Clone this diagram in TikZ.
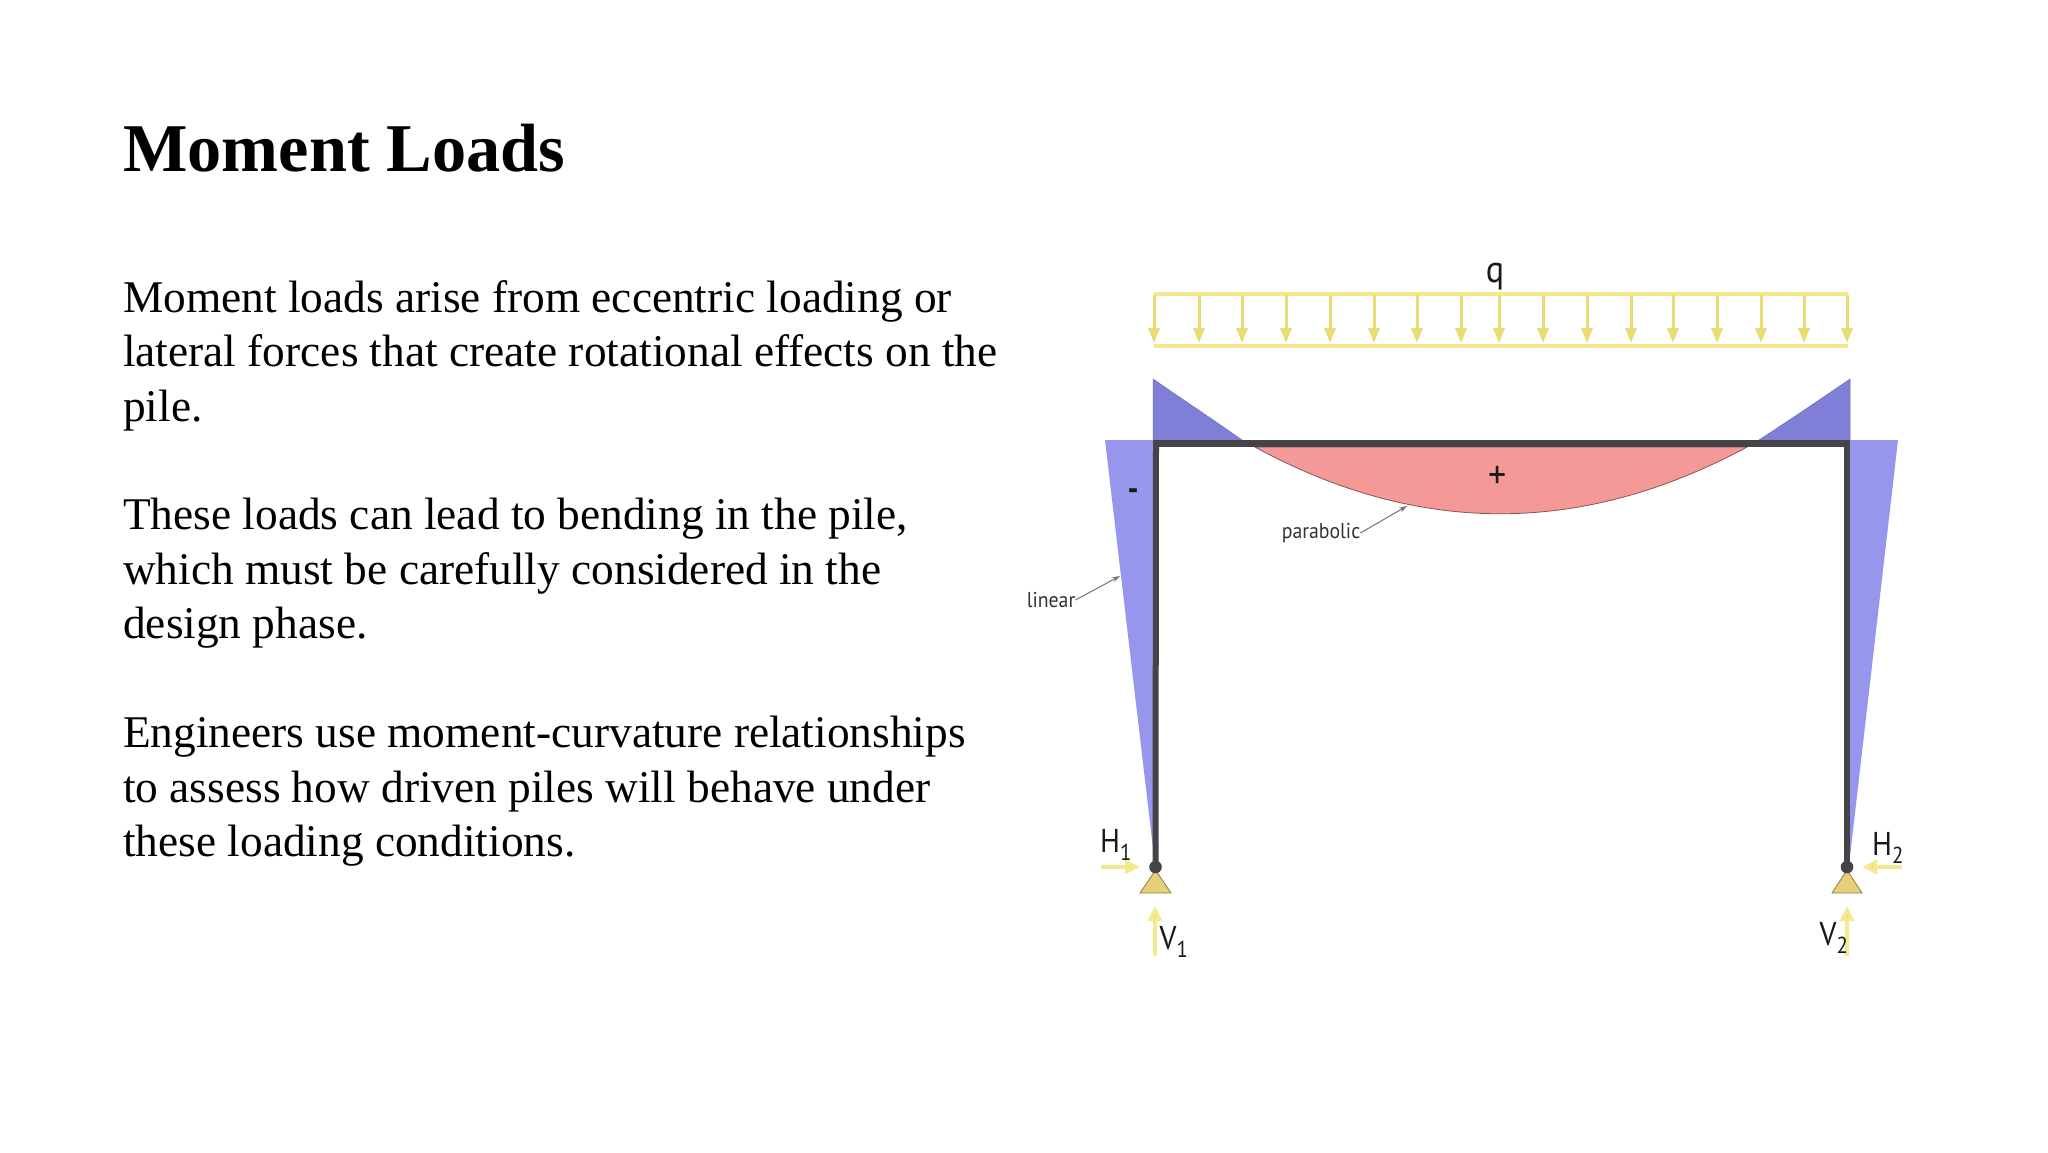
\documentclass[tikz,border=0pt]{standalone}
\usepackage{fontspec}
\setmainfont{Liberation Serif}
\newfontfamily\diagfont{PT Sans}
\usetikzlibrary{arrows.meta}
\definecolor{loady}{HTML}{F5E98F}
\definecolor{loadd}{HTML}{E9DC70}
\definecolor{momtop}{HTML}{7F7FD8}
\definecolor{momside}{HTML}{9696EC}
\definecolor{mompos}{HTML}{F49898}
\definecolor{frame}{HTML}{444448}
\definecolor{supp}{HTML}{E6D178}
\tikzset{
  x=1pt,y=-1pt,
  titletext/.style={inner sep=0,anchor=base west,font=\fontsize{68.3}{68}\selectfont\bfseries},
  bodytext/.style={inner sep=0,anchor=north west,align=left,font=\fontsize{45.35}{54.5}\selectfont},
  lab/.style={inner sep=0,text=black!90,font=\diagfont\fontsize{33}{33}\selectfont,xscale=0.9},
  note/.style={inner sep=0,text=black!80,font=\diagfont\fontsize{21.5}{24}\selectfont,xscale=0.92},
  leader/.style={draw=black!55,line width=1pt,-{Stealth[length=8pt,width=5pt]}},
  loadline/.style={draw=loady,line width=4.5pt},
  loadarrow/.style={draw=loadd,line width=3pt,-{Triangle[length=15pt,width=11pt,fill=loadd]},shorten >=2pt},
  reaction/.style={draw=loady,line width=3.6pt,-{Triangle[length=15pt,width=14pt,fill=loadd]}},
  beam/.style={draw=frame,line width=7.5pt},
}
\begin{document}
\begin{tikzpicture}
\useasboundingbox (0,0) rectangle (2048,1152);
\fill[white] (0,0) rectangle (2048,1152);
\node[titletext] (title) at (123,171) {Moment Loads};
\node[bodytext] (p1) at (123,280) {Moment loads arise from eccentric loading or\\lateral forces that create rotational effects on the\\pile.};
\node[bodytext] (p2) at (123,498) {These loads can lead to bending in the pile,\\which must be carefully considered in the\\design phase.};
\node[bodytext] (p3) at (123,716) {Engineers use moment-curvature relationships\\to assess how driven piles will behave under\\these loading conditions.};

% moment diagrams
\fill[mompos,draw=black!45!mompos,line width=0.8pt] (1255,447) .. controls (1418,536) and (1582,536) .. (1747,447) -- cycle;
\fill[momside] (1105,440) -- (1155,440) -- (1155,865) -- cycle;
\fill[momside] (1898,440) -- (1849,440) -- (1849,865) -- cycle;
\fill[momtop,draw=momtop!85!black,line width=0.5pt] (1153,379) .. controls (1185,401) and (1215,421) .. (1242,440) -- (1153,440) -- cycle;
\fill[momtop,draw=momtop!85!black,line width=0.5pt] (1850,379) .. controls (1818,401) and (1788,421) .. (1759,440) -- (1850,440) -- cycle;

% frame
\coordinate (tl) at (1153,443.5);
\coordinate (tr) at (1850,443.5);
\coordinate (bl) at (1155.5,867);
\coordinate (br) at (1847,867);
\draw[beam] (tl) -- (tr);
\draw[draw=frame,line width=6pt] (1156,440) -- (bl);
\draw[draw=frame,line width=6pt] (1847,440) -- (br);
\fill[supp,draw=black!40!supp,line width=0.8pt] (1155.5,870) -- (1171,893) -- (1140,893) -- cycle;
\fill[supp,draw=black!40!supp,line width=0.8pt] (1847,870) -- (1862,893) -- (1832,893) -- cycle;
\fill[frame] (bl) circle (6.3);
\fill[frame] (br) circle (6.3);

% load
\draw[loadline] (1154,294) -- (1848,294);
\draw[loadline] (1154,346) -- (1848,346);
\foreach \ax in {1154,1199,1242,1286,1330,1374,1417,1461,1499,1543,1587,1631,1673,1717,1761,1804,1847}
  \draw[loadarrow] (\ax,295) -- (\ax,345);

% reactions
\coordinate (h1a) at (1101,867); \coordinate (h1b) at (1140,867);
\coordinate (h2a) at (1902,867); \coordinate (h2b) at (1862,867);
\coordinate (v1a) at (1155,956); \coordinate (v1b) at (1155,906);
\coordinate (v2a) at (1847,956); \coordinate (v2b) at (1847,906);
\draw[reaction] (h1a) -- (h1b);
\draw[reaction] (h2a) -- (h2b);
\draw[reaction] (v1a) -- (v1b);
\draw[reaction] (v2a) -- (v2b);

% labels
\node[lab,font=\diagfont\fontsize{38}{38}\selectfont] (q) at (1495,277) {q};
\node[lab,font=\diagfont\fontsize{40}{40}\selectfont] (plus) at (1498,477) {+};
\node[lab,font=\diagfont\bfseries\fontsize{34}{34}\selectfont] (minus) at (1133,495) {-};
\node[lab] (H1) at (1116,845) {H\textsubscript{1}};
\node[lab] (H2) at (1888,848) {H\textsubscript{2}};
\node[lab] (V1) at (1174,942) {V\textsubscript{1}};
\node[lab] (V2) at (1834,938) {V\textsubscript{2}};
\node[note] (linear) at (1051,600) {linear};
\node[note] (parabolic) at (1321,533) {parabolic};
\coordinate (lt) at (1120,576);
\coordinate (pt) at (1407,506);
\draw[leader] (linear.east) -- (lt);
\draw[leader] (parabolic.east) -- (pt);
\end{tikzpicture}
\end{document}
